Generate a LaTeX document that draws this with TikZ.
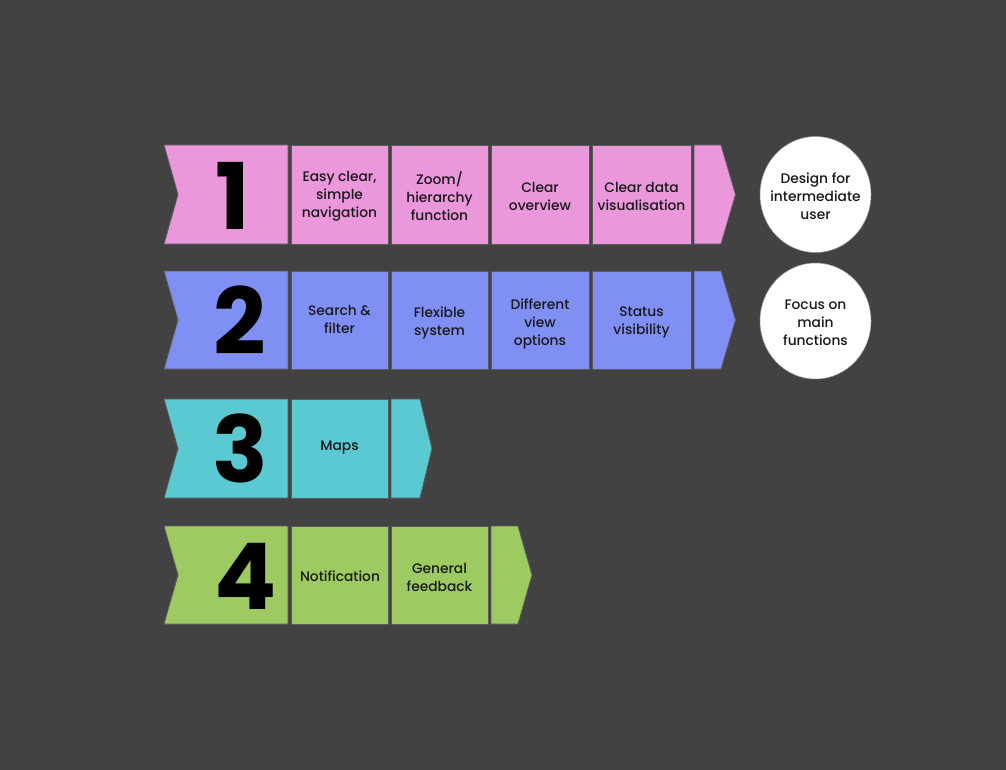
\documentclass[tikz,border=0pt]{standalone}
\usepackage{fontspec}
\usetikzlibrary{shapes.geometric}
\setmainfont{Poppins}[UprightFont=* Medium]
\newfontfamily\numfont{Poppins}[UprightFont=* Bold]
\definecolor{bgc}{HTML}{424242}
\definecolor{edgec}{HTML}{5A5A5A}
\definecolor{pinkc}{HTML}{EA97DC}
\definecolor{bluec}{HTML}{7F8FF3}
\definecolor{tealc}{HTML}{5AC9D1}
\definecolor{greenc}{HTML}{9DCB61}
\begin{document}
\begin{tikzpicture}[x=1pt,y=-1pt,
  cell/.style={draw=edgec,line width=0.8pt,fill=#1},
  lbl/.style={align=center,font=\fontsize{13.8}{18}\selectfont,text=black!90,inner sep=0pt,yshift=-1.5pt},
  num/.style={font=\numfont\fontsize{92}{92}\selectfont,text=black,inner sep=0pt},
  bubble/.style={ellipse,draw=edgec!60!white,line width=0.5pt,fill=white,minimum width=111pt,minimum height=116pt,inner sep=0pt}
]
\fill[bgc] (0,0) rectangle (1006,770);
\useasboundingbox (0,0) rectangle (1006,770);

% Row 1: top 145, bottom 244
\path[cell=pinkc] (164,145) -- (288,145) -- (288,244) -- (164,244) -- (178,194.5) -- cycle;
\node[num] (n1) at (233,196) {1};
\path[cell=pinkc] (291,145) rectangle (388,244);
\node[lbl] (a1) at (339.5,194.5) {Easy clear,\\simple\\navigation};
\path[cell=pinkc] (391,145) rectangle (488,244);
\node[lbl] (a2) at (439.5,194.5) {Zoom/\\hierarchy\\function};
\path[cell=pinkc] (491,145) rectangle (589,244);
\node[lbl] (a3) at (540,195) {Clear\\overview};
\path[cell=pinkc] (592,145) rectangle (691,244);
\node[lbl] (a4) at (641.5,195) {Clear data\\visualisation};
\path[cell=pinkc] (694,145) -- (721,145) -- (735.5,194.5) -- (721,244) -- (694,244) -- cycle;
\node[bubble] (c1) at (815.5,194.5) {};
\node[lbl] (c1t) at (c1.center) {Design for\\intermediate\\user};

% Row 2: top 271, bottom 369
\path[cell=bluec] (164,271) -- (288,271) -- (288,369) -- (164,369) -- (178,320) -- cycle;
\node[num] (n2) at (240,320) {2};
\path[cell=bluec] (291,271) rectangle (388,369);
\node[lbl] (b1) at (339.5,317.5) {Search \&\\filter};
\path[cell=bluec] (391,271) rectangle (488,369);
\node[lbl] (b2) at (439.5,321) {Flexible\\system};
\path[cell=bluec] (491,271) rectangle (589,369);
\node[lbl] (b3) at (540,322) {Different\\view\\options};
\path[cell=bluec] (592,271) rectangle (691,369);
\node[lbl] (b4) at (641.5,321) {Status\\visibility};
\path[cell=bluec] (694,271) -- (721,271) -- (735.5,320) -- (721,369) -- (694,369) -- cycle;
\node[bubble] (c2) at (815.5,321) {};
\node[lbl] (c2t) at (c2.center) {Focus on\\main\\functions};

% Row 3: top 399, bottom 498
\path[cell=tealc] (164,399) -- (288,399) -- (288,498) -- (164,498) -- (178,448.5) -- cycle;
\node[num] (n3) at (240,448.5) {3};
\path[cell=tealc] (291,399) rectangle (388,498);
\node[lbl] (m1) at (339.5,446) {Maps};
\path[cell=tealc] (391,399) -- (420,399) -- (432,448.5) -- (420,498) -- (391,498) -- cycle;

% Row 4: top 526, bottom 624
\path[cell=greenc] (164,526) -- (288,526) -- (288,624) -- (164,624) -- (178,575) -- cycle;
\node[num] (n4) at (246,576) {4};
\path[cell=greenc] (291,526) rectangle (388,624);
\node[lbl] (g1) at (340,575) {Notification};
\path[cell=greenc] (391,526) rectangle (488,624);
\node[lbl] (g2) at (439.5,576) {General\\feedback};
\path[cell=greenc] (491,526) -- (518,526) -- (532,575) -- (518,624) -- (491,624) -- cycle;
\end{tikzpicture}
\end{document}
